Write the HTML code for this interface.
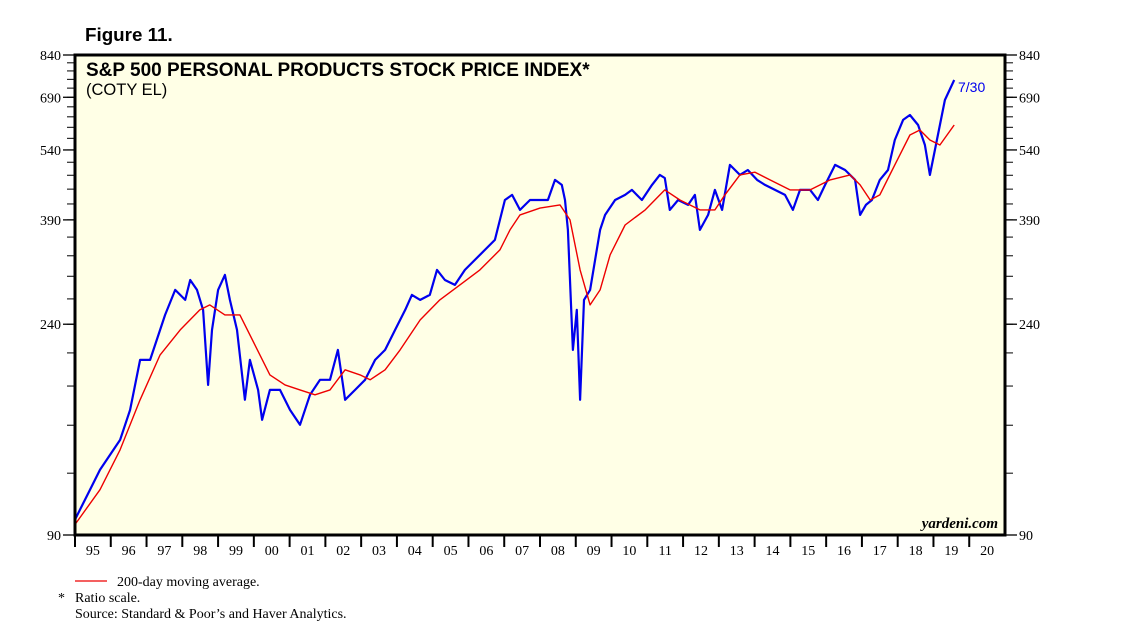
<!DOCTYPE html>
<html><head><meta charset="utf-8"><style>
body{margin:0;background:#fff;width:1138px;height:641px;overflow:hidden}
svg{display:block}
</style></head><body>
<svg id="chart" width="1138" height="641" xmlns="http://www.w3.org/2000/svg">
<text x="85" y="41" font-family="Liberation Sans, sans-serif" font-weight="bold" font-size="18.8">Figure 11.</text>
<rect x="75" y="55" width="930" height="480" fill="#ffffe6"/>
<g id="ticks"></g>
<g id="series"></g>
<rect x="75" y="55" width="930" height="480" fill="none" stroke="#000" stroke-width="3"/>
<text x="86" y="76" font-family="Liberation Sans, sans-serif" font-weight="bold" font-size="19">S&amp;P 500 PERSONAL PRODUCTS STOCK PRICE INDEX*</text>
<text x="86" y="95" font-family="Liberation Sans, sans-serif" font-size="16.5">(COTY EL)</text>
<text x="958" y="92" font-family="Liberation Sans, sans-serif" font-size="14" fill="#0000ee">7/30</text>
<text x="998" y="528" text-anchor="end" font-family="Liberation Serif, serif" font-style="italic" font-weight="bold" font-size="15">yardeni.com</text>
<line x1="75" y1="581" x2="107" y2="581" stroke="#e00" stroke-width="1.3"/>
<text x="117" y="586" font-family="Liberation Serif, serif" font-size="14">200-day moving average.</text>
<text x="58" y="602" font-family="Liberation Serif, serif" font-size="14">*</text>
<text x="75" y="602" font-family="Liberation Serif, serif" font-size="14">Ratio scale.</text>
<text x="75" y="618" font-family="Liberation Serif, serif" font-size="14">Source: Standard &amp; Poor’s and Haver Analytics.</text>
</svg>
<script>
const yTicks=[90,240,390,540,690,840];
const yearLabels=["95","96","97","98","99","00","01","02","03","04","05","06","07","08","09","10","11","12","13","14","15","16","17","18","19","20"];
const priceDates=[1995.00,1995.42,1995.70,1995.98,1996.26,1996.54,1996.82,1997.10,1997.38,1997.52,1997.80,1998.08,1998.22,1998.41,1998.58,1998.72,1998.83,1999.00,1999.19,1999.33,1999.53,1999.75,1999.89,2000.12,2000.23,2000.45,2000.73,2001.01,2001.29,2001.57,2001.85,2002.13,2002.35,2002.55,2002.83,2003.11,2003.39,2003.67,2003.95,2004.23,2004.42,2004.65,2004.92,2005.12,2005.34,2005.62,2005.90,2006.18,2006.46,2006.74,2007.02,2007.22,2007.44,2007.72,2008.00,2008.22,2008.42,2008.61,2008.70,2008.78,2008.92,2009.03,2009.12,2009.23,2009.40,2009.54,2009.68,2009.82,2010.10,2010.38,2010.57,2010.85,2011.13,2011.35,2011.49,2011.63,2011.86,2012.14,2012.33,2012.47,2012.70,2012.89,2013.09,2013.31,2013.59,2013.81,2014.07,2014.29,2014.57,2014.85,2015.07,2015.27,2015.55,2015.77,2015.97,2016.25,2016.53,2016.81,2016.95,2017.11,2017.28,2017.50,2017.73,2017.92,2018.15,2018.34,2018.57,2018.76,2018.90,2019.04,2019.18,2019.32,2019.58];
const priceValues=[96.7,111.1,121.9,130.7,140.1,161.1,203.3,203.3,233.7,250.6,281.5,268.7,294.9,281.5,256.5,181.0,233.7,281.5,301.9,268.7,233.7,168.8,203.3,176.8,153.8,176.8,176.8,161.1,150.3,172.8,185.3,185.3,213.0,168.8,176.8,185.3,203.3,213.0,233.7,256.5,275.1,268.7,275.1,309.0,294.9,288.2,309.0,323.7,339.1,355.3,427.9,438.0,408.5,427.9,427.9,427.9,469.7,458.9,427.9,372.2,213.0,256.5,168.8,268.7,281.5,323.7,372.2,399.1,427.9,438.0,448.3,427.9,458.9,480.7,474.0,408.5,427.9,418.1,438.0,372.2,399.1,448.3,408.5,503.6,480.7,492.0,469.7,458.9,448.3,438.0,408.5,448.3,448.3,427.9,458.9,503.6,492.0,469.7,399.1,418.1,427.9,469.7,492.0,565.7,620.9,635.5,606.6,552.7,480.7,540.0,606.6,681.4,747.8];
const maDates=[1995.00,1995.70,1996.26,1996.82,1997.38,1997.94,1998.49,1998.77,1999.19,1999.61,2000.03,2000.45,2000.87,2001.29,2001.71,2002.13,2002.55,2002.97,2003.25,2003.67,2004.09,2004.65,2005.20,2005.76,2006.32,2006.88,2007.16,2007.44,2008.00,2008.56,2008.84,2009.12,2009.40,2009.68,2009.96,2010.38,2010.94,2011.49,2011.91,2012.47,2012.89,2013.17,2013.59,2014.01,2014.43,2014.99,2015.55,2016.11,2016.67,2016.95,2017.23,2017.50,2017.92,2018.34,2018.62,2018.90,2019.18,2019.58];
const maValues=[94.5,111.1,133.8,168.8,208.1,233.7,256.5,262.6,250.6,250.6,218.0,189.6,181.0,176.8,172.8,176.8,194.1,189.6,185.3,194.1,213.0,244.9,268.7,288.2,309.0,339.1,372.2,399.1,412.0,418.1,389.9,309.0,262.6,281.5,331.3,380.9,408.5,448.3,427.9,408.5,408.5,438.0,480.7,487.0,469.7,448.3,448.3,469.7,480.7,458.9,427.9,438.0,503.6,579.0,592.6,565.7,552.7,606.6];

const L=75,R=1005,T=55,B=535,yMin=90,yMax=840,x0=1995,x1=2021;
function xs(t){return L+(t-x0)/(x1-x0)*(R-L);}
function ys(v){return B-(Math.log(v)-Math.log(yMin))/(Math.log(yMax)-Math.log(yMin))*(B-T);}
const NS="http://www.w3.org/2000/svg";
const tg=document.getElementById('ticks'),sg=document.getElementById('series');
function mk(tag,at,parent){const e=document.createElementNS(NS,tag);for(const k in at)e.setAttribute(k,at[k]);parent.appendChild(e);return e;}
for(let v=90;v<=840;v+=30){const y=ys(v);
 const a=mk('line',{x1:L-8,x2:L,y1:y,y2:y,stroke:'#000','stroke-width':1},tg);
 
 
 const b=mk('line',{x1:R,x2:R+8,y1:y,y2:y,stroke:'#000','stroke-width':1},tg);
 
 
}
yTicks.forEach(v=>{const y=ys(v);
 const a=mk('line',{x1:L-12,x2:L,y1:y,y2:y,stroke:'#000','stroke-width':1.3},tg);
 
 
 const b=mk('line',{x1:R,x2:R+12,y1:y,y2:y,stroke:'#000','stroke-width':1.3},tg);
 
 
 const t1=mk('text',{x:L-14,y:y+5,'text-anchor':'end','font-family':'Liberation Serif, serif','font-size':14},tg);t1.textContent=v;
 
 
 const t2=mk('text',{x:R+14,y:y+5,'font-family':'Liberation Serif, serif','font-size':14},tg);t2.textContent=v;
 
 
});
yearLabels.forEach((lab,i)=>{const xa=xs(x0+i);
 const tk=mk('line',{x1:xa,x2:xa,y1:B,y2:B+12,stroke:'#000','stroke-width':2},tg);
 
 
 const t=mk('text',{x:xs(x0+i+0.5),y:B+20,'text-anchor':'middle','font-family':'Liberation Serif, serif','font-size':14},tg);t.textContent=lab;
 
 
});
function path(d,v){return d.map((t,i)=>(i?'L':'M')+xs(t).toFixed(1)+','+ys(v[i]).toFixed(1)).join('');}
const pl=mk('path',{d:path(priceDates,priceValues),fill:'none',stroke:'#0000ee','stroke-width':2.2,'stroke-linejoin':'round'},sg);


const ml=mk('path',{d:path(maDates,maValues),fill:'none',stroke:'#e00','stroke-width':1.4,'stroke-linejoin':'round'},sg);


</script>
</body></html>
